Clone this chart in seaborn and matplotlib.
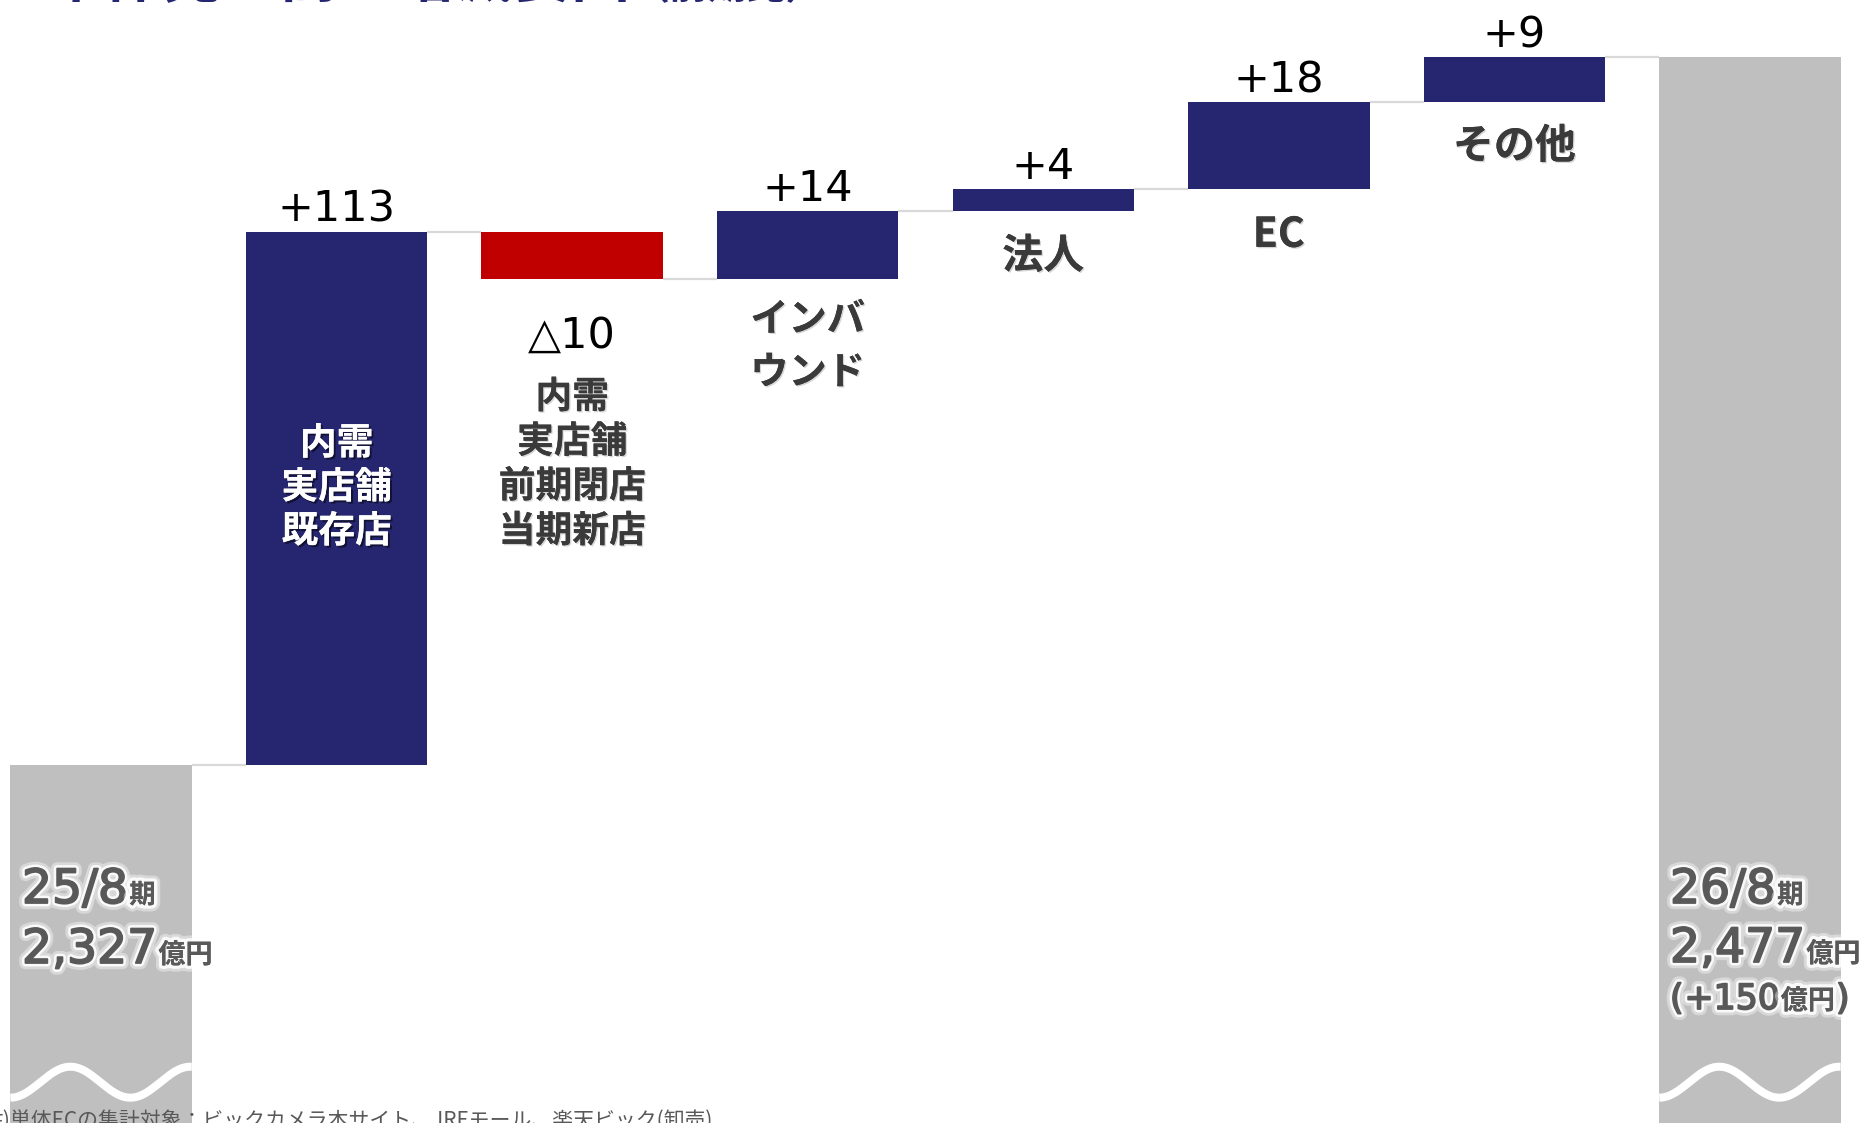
import numpy as np
import pandas as pd
import matplotlib
matplotlib.use("Agg")
import matplotlib.pyplot as plt
import matplotlib.patheffects as pe
import seaborn as sns

# data (億円)
categories = ["25/8期", "内需実店舗既存店", "内需実店舗前期閉店当期新店",
              "インバウンド", "法人", "EC", "その他", "26/8期"]
start_value = 2327
end_value = 2477
deltas = [113.0, -10.1, 14.4, 4.8, 18.3, 9.6]
delta_labels = ["+113", "△10", "+14", "+4", "+18", "+9"]
total_change = 150
cat_lines = [["内需", "実店舗", "既存店"],
             ["内需", "実店舗", "前期閉店", "当期新店"],
             ["インバ", "ウンド"], ["法人"], ["EC"], ["その他"]]
title_main = "単体売上高の増減要因"
title_sub = "（前期比）"
footnote = "注)単体ECの集計対象：ビックカメラ本サイト、JREモール、楽天ビック(卸売)"

NAVY = "#262670"
RED = "#C00000"
GRAY = "#BFBFBF"
W, H = 1871, 1123
PT = 0.72  # points per pixel at dpi 100
CJK = "Noto Sans CJK JP"
LAT = ["DejaVu Sans", CJK]

sns.set_theme(style="white")
plt.rcParams["font.family"] = [CJK, "DejaVu Sans"]

# waterfall geometry
levels = start_value + np.cumsum(deltas)
prev = np.concatenate([[start_value], levels[:-1]])
tops = [start_value] + list(np.maximum(prev, levels)) + [end_value]
bottoms = [0] + list(np.minimum(prev, levels)) + [0]
colors = [GRAY] + [NAVY if d > 0 else RED for d in deltas] + [GRAY]
df = pd.DataFrame({"category": categories, "top": tops, "bottom": bottoms})

fig = plt.figure(figsize=(W / 100, H / 100), dpi=100)
ax = fig.add_axes([0, 0, 1, 1])
bw = 0.77
sns.barplot(data=df, x="category", y="top", order=categories, width=bw,
            color=NAVY, ax=ax)
for patch, b, t, c in zip(ax.patches, df["bottom"], df["top"], colors):
    patch.set_y(b)
    patch.set_height(t - b)
    patch.set_facecolor(c)
    patch.set_edgecolor("none")

ax.set_xlim(-0.429, 7.514)
ax.set_ylim(2251.2, 2489.1)
ax.axis("off")

# connectors
conn_levels = [start_value] + list(levels)
for i, lv in enumerate(conn_levels):
    ax.hlines(lv, i + bw / 2, i + 1 - bw / 2, color="#D9D9D9", lw=1.6, zorder=1)

# broken-axis waves on the first and last bars
upp = (2489.1 - 2251.2) / H  # data units per pixel (y)
xpp = (7.514 + 0.429) / W
for i in (0, len(categories) - 1):
    left = i - bw / 2
    xs = np.linspace(left, i + bw / 2, 300)
    ys = start_value - 317 * upp + 15.5 * upp * np.cos(2 * np.pi * (xs - left - 60 * xpp) / (120 * xpp))
    ax.plot(xs, ys, color="white", lw=8 * PT, solid_capstyle="butt", zorder=3)

# delta labels
for i, (d, lab) in enumerate(zip(deltas, delta_labels), start=1):
    if d > 0:
        ax.annotate(lab, (i, tops[i]), xytext=(0, 10 * PT), textcoords="offset points",
                    ha="center", va="baseline", fontsize=31, color="black", family=LAT)
    else:
        ax.annotate(lab, (i, bottoms[i]), xytext=(0, -68 * PT), textcoords="offset points",
                    ha="center", va="baseline", fontsize=31, color="black", family=LAT)

# category labels: first line offset (px), pitch (px), size
lab_first = [212, 118, 40, 45, 46, 44]
lab_pitch = [44, 44.7, 53, 0, 0, 0]
lab_size = [26.5, 26.5, 27.5, 29.5, 29.5, 29.5]
shadow_dark = [pe.withSimplePatchShadow(offset=(1.5, -1.5), shadow_rgbFace="black", alpha=0.5), pe.Normal()]
shadow_light = [pe.withSimplePatchShadow(offset=(1, -1), shadow_rgbFace="#888888", alpha=0.35), pe.Normal()]
for k, lines in enumerate(cat_lines):
    i = k + 1
    inside = k == 0
    anchor = tops[i] if inside else bottoms[i]
    for j, s in enumerate(lines):
        off = lab_first[k] + j * lab_pitch[k]
        ax.annotate(s, (i, anchor), xytext=(0, -off * PT), textcoords="offset points",
                    ha="center", va="center", fontsize=lab_size[k], weight="bold",
                    color="white" if inside else "#3A3A3A",
                    path_effects=shadow_dark if inside else shadow_light)

# start / end bar texts with mixed sizes
fig.canvas.draw()
renderer = fig.canvas.get_renderer()
TXT = "#595959"
halo = [pe.withStroke(linewidth=9, foreground="white", alpha=0.4),
        pe.withStroke(linewidth=5, foreground="white", alpha=0.85)]
glow_num = halo + [pe.withStroke(linewidth=1.3, foreground=TXT), pe.Normal()]
glow_cjk = halo + [pe.Normal()]


def mixed_line(x_px, base_px, parts):
    x = x_px
    for s, size, fam, wt in parts:
        effects = glow_num if wt == "normal" else glow_cjk
        t = fig.text(x / W, 1 - base_px / H, s, fontsize=size, family=fam, weight=wt,
                     ha="left", va="baseline", color=TXT, path_effects=effects, zorder=5)
        x = t.get_window_extent(renderer).x1 + 1


big = 34
mixed_line(22, 903, [("25/8", big, LAT, "normal"), ("期", 19, CJK, "bold")])
mixed_line(22, 963, [(f"{start_value:,}", big, LAT, "normal"), ("億円", 19.5, CJK, "bold")])
mixed_line(1670, 903, [("26/8", big, LAT, "normal"), ("期", 19, CJK, "bold")])
mixed_line(1670, 962, [(f"{end_value:,}", big, LAT, "normal"), ("億円", 19.5, CJK, "bold")])
mixed_line(1670, 1009, [("(", 25, LAT, "normal"), (f"+{total_change}", 25, LAT, "normal"),
                        ("億円", 19.5, CJK, "bold"), (")", 25, LAT, "normal")])

# title (cut off by the top edge) and footnote (cut off by the bottom edge)
t = fig.text(46 / W, 1 + 3 / H, title_main, fontsize=42, weight="bold", color=NAVY,
             ha="left", va="baseline")
x1 = t.get_window_extent(renderer).x1
fig.text(x1 / W, 1 + 1 / H, title_sub, fontsize=28, weight="bold", color=NAVY,
         ha="left", va="baseline")
fig.text(-18 / W, -4 / H, footnote, fontsize=15, color="#595959", ha="left", va="baseline")

fig.savefig("out.png", dpi=100)
